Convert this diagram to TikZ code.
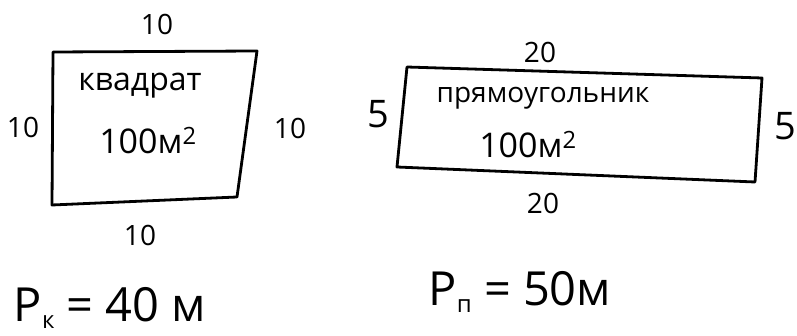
\documentclass[tikz,border=0pt]{standalone}
\usepackage{fontspec}
\setmainfont{Open Sans}
\begin{document}
\begin{tikzpicture}[x=1pt,y=-1pt,
  outline/.style={line width=2.8pt,line join=round,line cap=round},
  sidelbl/.style={inner sep=0pt,font=\fontsize{28}{30}\selectfont},
  bigside/.style={inner sep=0pt,font=\fontsize{38}{40}\selectfont},
  namelbl/.style={inner sep=0pt,font=\fontsize{#1}{#1}\selectfont},
  arealbl/.style={inner sep=0pt,font=\fontsize{34}{36}\selectfont},
  perimlbl/.style={inner sep=0pt,font=\fontsize{47}{48}\selectfont}]
\useasboundingbox (0,0) rectangle (797,336);
% square
\coordinate (s1) at (53,52);
\coordinate (s2) at (257,51);
\coordinate (s3) at (237,197);
\coordinate (s4) at (52,205);
\draw[outline] (s1) -- (s2) -- (s3) -- (s4) -- cycle;
\node[sidelbl] (sqt) at (157,24) {10};
\node[sidelbl] (sql) at (23,127) {10};
\node[sidelbl] (sqr) at (290,128) {10};
\node[sidelbl] (sqb) at (140,235) {10};
\node[namelbl=32] (sqn) at (140,86) {квадрат};
\node[arealbl] (sqa) at (148,141) {100м\textsuperscript{2}};
\node[perimlbl] (sqp) at (110,308) {Р\raisebox{-0.25ex}{\fontsize{24}{26}\selectfont к} = 40 м};
% rectangle
\coordinate (r1) at (407,67);
\coordinate (r2) at (762,78);
\coordinate (r3) at (755,182);
\coordinate (r4) at (397,167);
\draw[outline] (r1) -- (r2) -- (r3) -- (r4) -- cycle;
\node[sidelbl] (ret) at (540,52) {20};
\node[bigside] (rel) at (378,114) {5};
\node[bigside] (rer) at (785,126) {5};
\node[sidelbl] (reb) at (543,203) {20};
\node[namelbl=28] (ren) at (543,98) {прямоугольник};
\node[arealbl] (rea) at (528,145) {100м\textsuperscript{2}};
\node[perimlbl] (rep) at (520,292) {Р\raisebox{-0.25ex}{\fontsize{24}{26}\selectfont п} = 50м};
\end{tikzpicture}
\end{document}
